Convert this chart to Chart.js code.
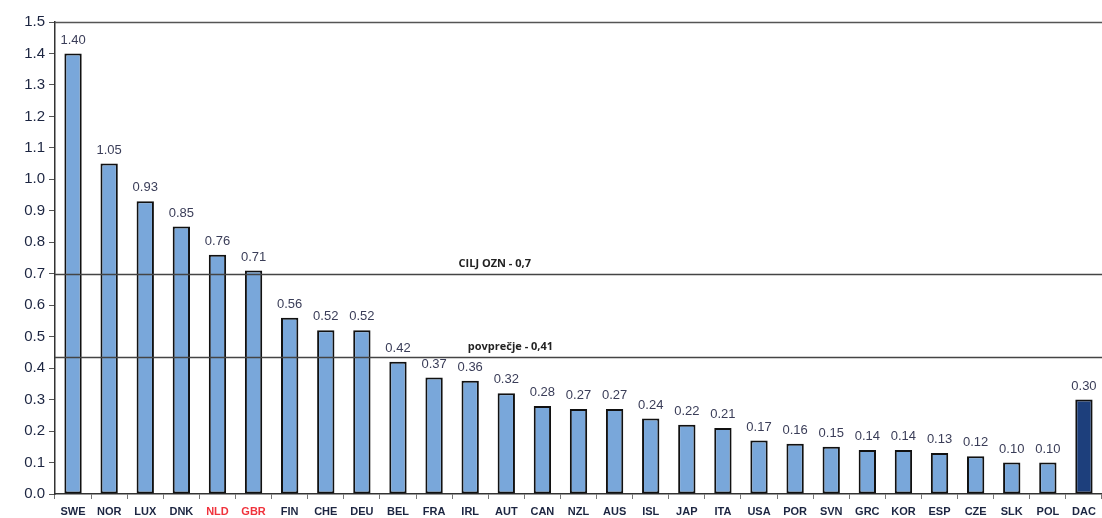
<!DOCTYPE html>
<html>
<head>
<meta charset="utf-8">
<script src="https://cdn.jsdelivr.net/npm/chart.js@4.4.1/dist/chart.umd.min.js"></script>
<style>
  html, body { margin: 0; padding: 0; background: #fff; }
  #wrap { width: 1102px; height: 518px; position: relative; }
</style>
</head>
<body>
<div id="wrap"><canvas id="c"></canvas></div>
<script>
// ── podatki ──
var countries = ['SWE', 'NOR', 'LUX', 'DNK', 'NLD', 'GBR', 'FIN', 'CHE', 'DEU', 'BEL', 'FRA', 'IRL', 'AUT', 'CAN', 'NZL',
  'AUS', 'ISL', 'JAP', 'ITA', 'USA', 'POR', 'SVN', 'GRC', 'KOR', 'ESP', 'CZE', 'SLK', 'POL', 'DAC'];
var shares = [1.40, 1.05, 0.93, 0.85, 0.76, 0.71, 0.56, 0.52, 0.52, 0.42, 0.37, 0.36, 0.32, 0.28, 0.27,
  0.27, 0.24, 0.22, 0.21, 0.17, 0.16, 0.15, 0.14, 0.14, 0.13, 0.12, 0.10, 0.10, 0.30];
var redLabels = ['NLD', 'GBR'];
var yTicks = [0, 0.1, 0.2, 0.3, 0.4, 0.5, 0.6, 0.7, 0.8, 0.9, 1.0, 1.1, 1.2, 1.3, 1.4, 1.5];
var goalValue = 0.7, goalText = 'CILJ OZN - 0,7';
var avgValue = 0.435, avgText = 'povprečje - 0,41';

var NAVY = '#1c2541';
var BAR = '#79a7da', BAR_DAC = '#1d3f7c';

// črte cilja/povprečja + okvir zgoraj + vrednosti nad stolpci
var refPlugin = {
  id: 'refLines',
  afterDatasetsDraw: function (chart) {
    var ctx = chart.ctx, a = chart.chartArea, y = chart.scales.y;
    ctx.save();
    // zgornji rob
    ctx.strokeStyle = '#555';
    ctx.lineWidth = 1.5;
    ctx.beginPath(); ctx.moveTo(a.left, a.top + 0.5); ctx.lineTo(a.right, a.top + 0.5); ctx.stroke();
    // vrednosti
    var meta = chart.getDatasetMeta(0);
    ctx.font = '13px "Liberation Sans", Arial, sans-serif';
    ctx.fillStyle = '#3a3d58';
    ctx.textAlign = 'center';
    ctx.textBaseline = 'bottom';
    meta.data.forEach(function (bar, i) {
      ctx.fillText(shares[i].toFixed(2), bar.x, bar.y - 7);
    });
    // referenčne črte
    ctx.strokeStyle = '#444';
    ctx.lineWidth = 1.6;
    [[goalValue, goalText, 0.42], [avgValue, avgText, 0.435]].forEach(function (r) {
      var py = Math.round(y.getPixelForValue(r[0])) + 0.5;
      ctx.beginPath(); ctx.moveTo(a.left, py); ctx.lineTo(a.right, py); ctx.stroke();
      ctx.font = 'bold 11px "Open Sans", "DejaVu Sans", sans-serif';
      ctx.fillStyle = '#222';
      ctx.fillText(r[1], a.left + (a.right - a.left) * r[2], py - 5);
    });
    ctx.restore();
  }
};

new Chart(document.getElementById('c'), {
  type: 'bar',
  data: {
    labels: countries,
    datasets: [{
      data: shares,
      backgroundColor: countries.map(function (c) { return c === 'DAC' ? BAR_DAC : BAR; }),
      borderColor: '#111',
      borderWidth: 2,
      borderSkipped: false,
      barPercentage: 0.48,
      categoryPercentage: 1.0
    }]
  },
  options: {
    responsive: true,
    maintainAspectRatio: false,
    animation: false,
    layout: { padding: { top: 22, right: 0, left: 0, bottom: 0 } },
    plugins: { legend: { display: false }, tooltip: { enabled: false } },
    scales: {
      x: {
        grid: { offset: true, drawOnChartArea: false, drawTicks: true, tickLength: 5, color: '#777' },
        border: { color: '#333', width: 1.5 },
        ticks: {
          autoSkip: false, maxRotation: 0, padding: 6,
          font: { family: '"Liberation Sans", Arial, sans-serif', size: 11, weight: 'bold' },
          color: function (c) { return redLabels.indexOf(countries[c.index]) >= 0 ? '#f0323c' : NAVY; }
        },
        afterFit: function (s) { s.height = 24; }
      },
      y: {
        min: 0, max: 1.5,
        afterBuildTicks: function (s) { s.ticks = yTicks.map(function (v) { return { value: v }; }); },
        grid: { drawOnChartArea: false, drawTicks: true, tickLength: 6, color: '#555' },
        border: { color: '#333', width: 1.5 },
        ticks: {
          padding: 4,
          font: { family: '"Liberation Sans", Arial, sans-serif', size: 15 },
          color: NAVY,
          callback: function (v) { return Number(v).toFixed(1); }
        },
        afterFit: function (s) { s.width = 55; }
      }
    }
  },
  plugins: [refPlugin]
});
</script>
</body>
</html>
